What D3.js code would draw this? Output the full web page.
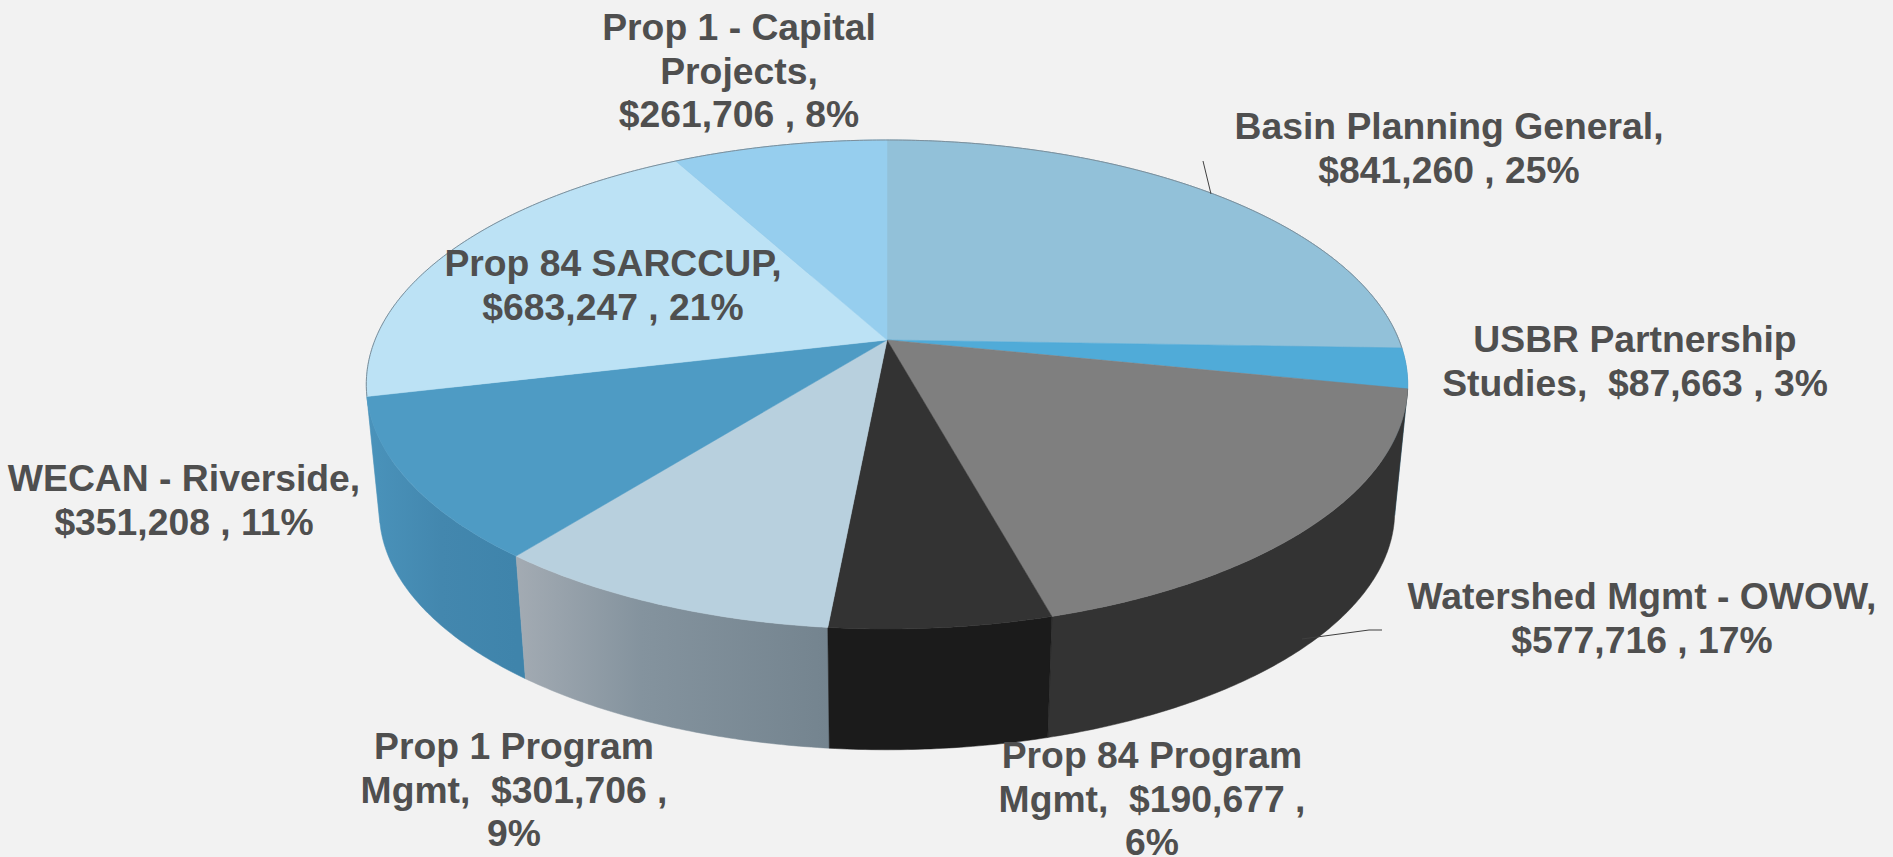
<!DOCTYPE html>
<html>
<head>
<meta charset="utf-8">
<script src="https://cdn.jsdelivr.net/npm/d3@7"></script>
<style>
html, body { margin: 0; padding: 0; background: #f2f2f2; overflow: hidden; }
text { font-family: "Liberation Sans", Arial, sans-serif; font-weight: bold; white-space: pre; }
</style>
</head>
<body>
<div id="chart"></div>
<script>
var categories = ['Basin Planning General', 'USBR Partnership Studies', 'Watershed Mgmt - OWOW', 'Prop 84 Program Mgmt',
    'Prop 1 Program Mgmt', 'WECAN - Riverside', 'Prop 84 SARCCUP', 'Prop 1 - Capital Projects']
var amounts = [841260, 87663, 577716, 190677, 301706, 351208, 683247, 261706]
var labelLines = [
    ['Basin Planning General,', '$841,260 , 25%'],
    ['USBR Partnership', 'Studies,  $87,663 , 3%'],
    ['Watershed Mgmt - OWOW,', '$577,716 , 17%'],
    ['Prop 84 Program', 'Mgmt,  $190,677 ,', '6%'],
    ['Prop 1 Program', 'Mgmt,  $301,706 ,', '9%'],
    ['WECAN - Riverside,', '$351,208 , 11%'],
    ['Prop 84 SARCCUP,', '$683,247 , 21%'],
    ['Prop 1 - Capital', 'Projects,', '$261,706 , 8%']
]

var width = 1893, height = 857

var colors = {
    bg: '#f2f2f2',
    text: '#4f4f4f',
    leader: '#404040',
    rim: '#7d8f9b',
    top: ['#92c1d9', '#50abd8', '#7f7f7f', '#333333', '#b8d0de', '#4e9bc4', '#bce2f5', '#96ceee'],
    side: ['#7fa9be', '#3f8bb0', '#333333', '#1b1b1b', 'url(#sideMgmt)', 'url(#sideWecan)', '#a4c5d6', '#83b4d0']
}

// label anchor: centre x, first baseline y
var labelPos = [[1449, 139], [1635, 352], [1642, 609], [1152, 768], [514, 759], [184, 491], [613, 276], [739, 40]]
var lineStep = 43.7
var fontSize = 37.3
var leaders = [
    [[1203, 161], [1211, 194]],
    [[1302, 639], [1369, 630], [1382, 630]]
]

// tilted disc, the near edge comes out bigger than the far edge
var disc = { cx: 887, cy: 340, a: 512, b: 236.4, k: 0.182 }
var floorScale = 0.975, floorY = 468

function project(angle, scale, y0) {
    var u = Math.sin(angle), v = -Math.cos(angle),
        w = 1 - disc.k * v
    return [disc.cx + scale * disc.a * u / w, y0 + scale * disc.b * v / w]
}

function arcPoints(d, scale, y0) {
    var n = Math.max(4, Math.ceil((d.endAngle - d.startAngle) / 0.01))
    return d3.range(n + 1).map(function(i) {
        return project(d.startAngle + (d.endAngle - d.startAngle) * i / n, scale, y0)
    })
}

var pie = d3.pie().sort(null).value(function(d) { return d })
var slices = pie(amounts)
var line = d3.line()

var svg = d3.select('#chart').append('svg')
    .attr('width', width)
    .attr('height', height)
    .attr('viewBox', '0 0 ' + width + ' ' + height)
    .style('display', 'block')

svg.append('rect').attr('width', width).attr('height', height).attr('fill', colors.bg)

var defs = svg.append('defs')
function sideGradient(id, i, stops) {
    var a = project(slices[i].startAngle, 1, disc.cy),
        b = project(slices[i].endAngle, 1, disc.cy)
    defs.append('linearGradient')
        .attr('id', id)
        .attr('gradientUnits', 'userSpaceOnUse')
        .attr('x1', a[0]).attr('y1', a[1]).attr('x2', b[0]).attr('y2', a[1])
        .selectAll('stop').data(stops).enter().append('stop')
        .attr('offset', function(d) { return d[0] })
        .attr('stop-color', function(d) { return d[1] })
}
sideGradient('sideMgmt', 4, [[0, '#74848f'], [0.6, '#84939e'], [1, '#a3abb3']])
sideGradient('sideWecan', 5, [[0, '#3f84ab'], [0.5, '#4387ae'], [1, '#4a93bb']])

// rim, back slices first so the near ones sit on top
var order = slices.map(function(d, i) { return i }).sort(function(p, q) {
    return project((slices[p].startAngle + slices[p].endAngle) / 2, 1, disc.cy)[1] -
        project((slices[q].startAngle + slices[q].endAngle) / 2, 1, disc.cy)[1]
})

svg.append('g').selectAll('path')
    .data(order)
    .enter().append('path')
    .attr('d', function(i) {
        var upper = arcPoints(slices[i], 1, disc.cy),
            lower = arcPoints(slices[i], floorScale, floorY).reverse()
        return line(upper.concat(lower)) + 'Z'
    })
    .attr('fill', function(i) { return colors.side[i] })
    .attr('stroke', function(i) { return colors.side[i] })
    .attr('stroke-width', 0.5)

svg.append('g').selectAll('path')
    .data(slices)
    .enter().append('path')
    .attr('d', function(d) {
        return line([[disc.cx, disc.cy]].concat(arcPoints(d, 1, disc.cy))) + 'Z'
    })
    .attr('fill', function(d, i) { return colors.top[i] })
    .attr('stroke', function(d, i) { return colors.top[i] })
    .attr('stroke-width', 0.5)

// thin outline on the far edge, across the slices that have no visible rim
var farEdge = { startAngle: slices[6].startAngle - 2 * Math.PI, endAngle: slices[0].endAngle }
svg.append('path')
    .attr('d', line(arcPoints(farEdge, 1, disc.cy)))
    .attr('fill', 'none')
    .attr('stroke', colors.rim)
    .attr('stroke-width', 1)

svg.append('g').selectAll('path')
    .data(leaders)
    .enter().append('path')
    .attr('d', line)
    .attr('fill', 'none')
    .attr('stroke', colors.leader)
    .attr('stroke-width', 1)

var labels = svg.append('g').selectAll('text')
    .data(labelLines)
    .enter().append('text')
    .attr('text-anchor', 'middle')
    .attr('font-size', fontSize)
    .attr('fill', colors.text)

labels.selectAll('tspan')
    .data(function(d, i) {
        return d.map(function(t, j) { return { t: t, x: labelPos[i][0], y: labelPos[i][1] + j * lineStep } })
    })
    .enter().append('tspan')
    .attr('x', function(d) { return d.x })
    .attr('y', function(d) { return d.y })
    .text(function(d) { return d.t })
</script>
</body>
</html>
